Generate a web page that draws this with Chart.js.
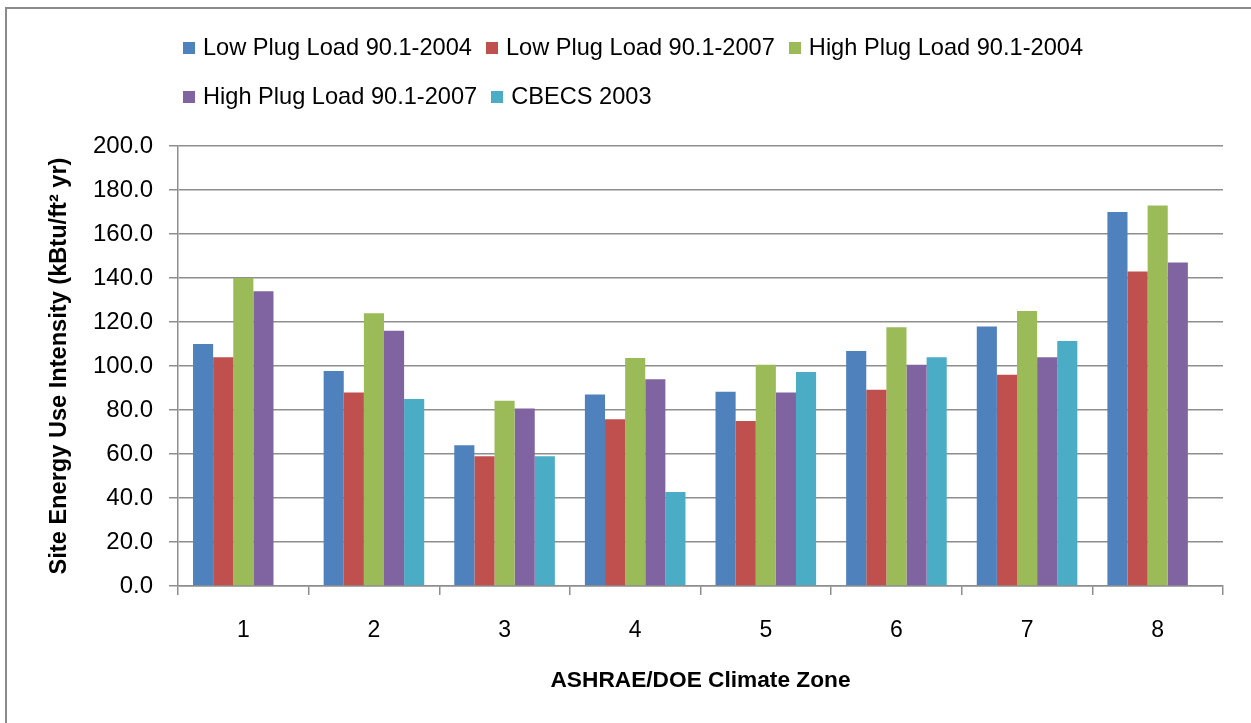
<!DOCTYPE html>
<html>
<head>
<meta charset="utf-8">
<script src="https://cdn.jsdelivr.net/npm/chart.js@4.4.1/dist/chart.umd.min.js"></script>
<style>
  html, body { margin: 0; padding: 0; background: #fff; overflow: hidden; }
  #frame {
    position: absolute; left: 5px; top: 7px;
    width: 1300px; height: 800px;
    border: 2px solid #8a8a8a;
  }
  #wrap { position: absolute; left: 0; top: 0; width: 1251px; height: 723px; }
  #legend {
    position: absolute; left: 183px; top: 33px;
    font-family: "Liberation Sans", Arial, sans-serif; font-size: 23.6px; color: #000;
  }
  .row { display: flex; align-items: center; height: 29px; margin-bottom: 20px; white-space: nowrap; }
  .item { display: flex; align-items: center; margin-right: 14px; }
  .box { width: 12px; height: 12px; margin-right: 8px; }
</style>
</head>
<body>
<div id="frame"></div>
<div id="wrap">
  <canvas id="chart" width="1251" height="723"></canvas>
  <div id="legend"></div>
</div>
<script>
const zones = ['1', '2', '3', '4', '5', '6', '7', '8'];

const seriesNames = [
  'Low Plug Load 90.1-2004',
  'Low Plug Load 90.1-2007',
  'High Plug Load 90.1-2004',
  'High Plug Load 90.1-2007',
  'CBECS 2003'
];
const seriesColors = ['#4F81BD', '#C0504D', '#9BBB59', '#8064A2', '#4BACC6'];

const lowPlug2004  = [110, 97.7, 64, 87, 88.3, 106.8, 118, 170];
const lowPlug2007  = [104, 88, 59, 75.8, 75, 89.2, 96, 143];
const highPlug2004 = [140, 124, 84.2, 103.6, 100.6, 117.6, 125, 173];
const highPlug2007 = [134, 116, 80.7, 94, 88, 100.6, 104, 147];
const cbecs2003    = [null, 85, 59, 42.7, 97.3, 104, 111.4, null];

const yTicks = [0, 20, 40, 60, 80, 100, 120, 140, 160, 180, 200];

const seriesValues = [lowPlug2004, lowPlug2007, highPlug2004, highPlug2007, cbecs2003];

const gridColor = '#8e8e8e';
const fontFamily = '"Liberation Sans", Arial, sans-serif';

// html legend, two rows like the original
const legendRows = [[0, 1, 2], [3, 4]];
const legendEl = document.getElementById('legend');
legendRows.forEach(row => {
  const rowEl = document.createElement('div');
  rowEl.className = 'row';
  row.forEach(i => {
    const item = document.createElement('div');
    item.className = 'item';
    const box = document.createElement('span');
    box.className = 'box';
    box.style.background = seriesColors[i];
    const label = document.createElement('span');
    label.textContent = seriesNames[i];
    item.appendChild(box);
    item.appendChild(label);
    rowEl.appendChild(item);
  });
  legendEl.appendChild(rowEl);
});

const datasets = seriesValues.map((values, i) => ({
  label: seriesNames[i],
  data: values,
  backgroundColor: seriesColors[i],
  borderWidth: 0,
  barPercentage: 1.0,
  categoryPercentage: 0.77
}));

new Chart(document.getElementById('chart'), {
  type: 'bar',
  data: { labels: zones, datasets: datasets },
  options: {
    responsive: false,
    animation: false,
    layout: { padding: { top: 146, right: 28, bottom: 0, left: 0 } },
    plugins: {
      legend: { display: false },
      tooltip: { enabled: false }
    },
    scales: {
      x: {
        afterFit: (scale) => { scale.height = 137; },
        grid: {
          display: true,
          drawOnChartArea: false,
          drawTicks: true,
          tickLength: 9,
          color: gridColor,
          lineWidth: 1.5
        },
        border: { color: gridColor, width: 1.5 },
        ticks: {
          color: '#000',
          padding: 22,
          font: { family: fontFamily, size: 23 }
        },
        title: {
          display: true,
          text: 'ASHRAE/DOE Climate Zone',
          color: '#000',
          font: { family: fontFamily, size: 22.7, weight: 'bold' },
          padding: { top: 0, bottom: 29 }
        }
      },
      y: {
        min: 0,
        max: 200,
        afterFit: (scale) => { scale.width = 178; },
        afterBuildTicks: (scale) => { scale.ticks = yTicks.map(v => ({ value: v })); },
        grid: {
          color: gridColor,
          lineWidth: 1.5,
          drawTicks: true,
          tickLength: 9
        },
        border: { color: gridColor, width: 1.5 },
        ticks: {
          color: '#000',
          padding: 16,
          font: { family: fontFamily, size: 24 },
          callback: (v) => Number(v).toFixed(1)
        },
        title: {
          display: true,
          text: 'Site Energy Use Intensity (kBtu/ft² yr)',
          color: '#000',
          font: { family: fontFamily, size: 23.6, weight: 'bold' },
          padding: { top: 45, bottom: 0 }
        }
      }
    }
  }
});
</script>
</body>
</html>
